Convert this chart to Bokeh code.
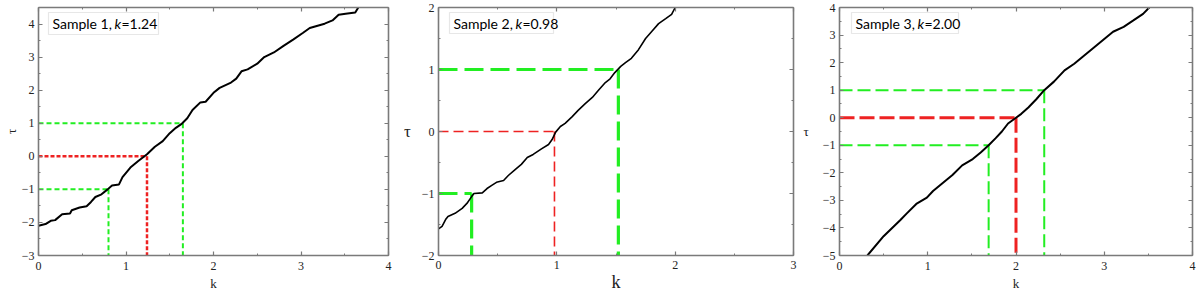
from bokeh.plotting import figure
from bokeh.layouts import row
from bokeh.models import (LinearAxis, SingleIntervalTicker, CustomJSTickFormatter,
                          Range1d, BoxAnnotation, Label)
from bokeh.embed import file_html
from bokeh.resources import INLINE

# ---------------- data ----------------
k1 = [0.0, 0.08, 0.14, 0.19, 0.27, 0.36, 0.38, 0.47, 0.55, 0.60, 0.65, 0.72, 0.79,
      0.84, 0.92, 0.96, 1.05, 1.14, 1.20, 1.24, 1.33, 1.42, 1.50, 1.57, 1.64, 1.70,
      1.76, 1.85, 1.91, 2.00, 2.07, 2.20, 2.26, 2.32, 2.39, 2.50, 2.58, 2.69, 2.80,
      2.91, 3.02, 3.10, 3.19, 3.27, 3.36, 3.43, 3.51, 3.62, 3.66]
tau1 = [-2.10, -2.05, -1.95, -1.93, -1.75, -1.73, -1.63, -1.55, -1.51, -1.38, -1.23,
        -1.15, -1.00, -0.88, -0.85, -0.63, -0.34, -0.14, -0.02, 0.06, 0.29, 0.46,
        0.70, 0.86, 0.99, 1.15, 1.40, 1.63, 1.65, 1.92, 2.07, 2.23, 2.35, 2.57, 2.63,
        2.80, 3.00, 3.14, 3.34, 3.53, 3.73, 3.88, 3.95, 4.01, 4.11, 4.28, 4.31, 4.35,
        4.52]

k2 = [0.0, 0.03, 0.06, 0.08, 0.14, 0.20, 0.24, 0.28, 0.30, 0.37, 0.41, 0.45, 0.49,
      0.55, 0.59, 0.65, 0.70, 0.75, 0.80, 0.87, 0.93, 0.96, 0.99, 1.03, 1.07, 1.13,
      1.18, 1.24, 1.30, 1.35, 1.41, 1.45, 1.49, 1.54, 1.58, 1.63, 1.69, 1.75, 1.80,
      1.86, 1.92, 1.97, 2.00]
tau2 = [-1.57, -1.53, -1.42, -1.37, -1.32, -1.24, -1.16, -1.05, -1.00, -0.99, -0.92,
        -0.87, -0.82, -0.79, -0.71, -0.61, -0.53, -0.42, -0.37, -0.28, -0.21, -0.13,
        -0.01, 0.08, 0.13, 0.24, 0.34, 0.45, 0.55, 0.66, 0.79, 0.85, 0.95, 1.05, 1.11,
        1.18, 1.32, 1.50, 1.61, 1.74, 1.82, 1.89, 2.00]

k3 = [0.316, 0.50, 0.69, 0.76, 0.87, 0.99, 1.06, 1.17, 1.28, 1.39, 1.51, 1.60, 1.69,
      1.77, 1.84, 1.91, 2.00, 2.06, 2.14, 2.23, 2.32, 2.43, 2.55, 2.66, 2.77, 2.88,
      2.99, 3.10, 3.22, 3.33, 3.44, 3.51]
tau3 = [-5.00, -4.30, -3.71, -3.48, -3.13, -2.90, -2.66, -2.37, -2.08, -1.73, -1.50,
        -1.26, -1.00, -0.74, -0.50, -0.21, 0.00, 0.14, 0.37, 0.67, 1.00, 1.31, 1.72,
        1.96, 2.25, 2.54, 2.83, 3.12, 3.30, 3.53, 3.77, 4.00]

cross_tau = [-1, 0, 1]
cross_k1 = [0.80, 1.24, 1.65]
cross_k2 = [0.28, 0.98, 1.52]
cross_k3 = [1.69, 2.00, 2.32]

sample_names = ["Sample 1, ", "Sample 2, ", "Sample 3, "]
k_texts = ["=1.24", "=0.98", "=2.00"]

GREEN = "#22ee22"
RED = "#ee2222"
AXC = "#7a7a7a"
SERIF = "Liberation Serif"

FRAME_H = 248
B_TOP = 7
B_BOT = 38


def style_axis(ax, labels=True, fsize="12px"):
    ax.ticker = SingleIntervalTicker(interval=1, num_minor_ticks=2)
    ax.axis_line_color = AXC
    ax.axis_line_width = 1.6
    ax.major_tick_line_color = AXC
    ax.minor_tick_line_color = AXC
    ax.major_tick_line_width = 1.2
    ax.minor_tick_line_width = 1.0
    ax.major_tick_in = 4
    ax.major_tick_out = 0
    ax.minor_tick_in = 2
    ax.minor_tick_out = 0
    if labels:
        ax.major_label_text_font = SERIF
        ax.major_label_text_font_size = fsize
        ax.major_label_text_color = "#222222"
        ax.major_label_standoff = 4
    else:
        ax.formatter = CustomJSTickFormatter(code="return ''")
        ax.major_label_text_font_size = "0px"
        ax.major_label_standoff = 0


def panel(kx, ty, ck, xr, yr, fw, bl, br, cfg):
    p = figure(frame_width=fw, frame_height=FRAME_H,
               x_range=Range1d(*xr), y_range=Range1d(*yr),
               output_backend="svg", toolbar_location=None,
               min_border_left=bl, min_border_right=br,
               min_border_top=B_TOP, min_border_bottom=B_BOT)
    p.xgrid.visible = False
    p.ygrid.visible = False
    p.outline_line_color = None
    p.background_fill_color = "white"
    p.border_fill_color = "white"

    style_axis(p.xaxis[0])
    style_axis(p.yaxis[0])
    p.xaxis[0].major_label_standoff = cfg["xt_stand"]
    p.xaxis[0].axis_label = "k"
    p.yaxis[0].axis_label = "τ"
    for ax, fs in ((p.xaxis[0], cfg["xl_fs"]), (p.yaxis[0], cfg["yl_fs"])):
        ax.axis_label_text_font = SERIF
        ax.axis_label_text_font_style = "normal"
        ax.axis_label_text_font_size = fs
        ax.axis_label_text_color = "#222222"
        ax.axis_label_standoff = 0
    p.xaxis[0].axis_label_standoff = cfg["xl_stand"]
    if cfg["yl_horiz"]:
        p.yaxis[0].axis_label_orientation = "horizontal"
        p.yaxis[0].axis_label_standoff = cfg.get("yl_stand", 4)

    top = LinearAxis()
    style_axis(top, labels=False)
    p.add_layout(top, "above")
    right = LinearAxis()
    style_axis(right, labels=False)
    p.add_layout(right, "right")

    x0 = xr[0]
    y0 = yr[0]
    colors = [GREEN, RED, GREEN]
    for i in range(3):
        c = colors[i]
        lw = cfg["g_w"] if c == GREEN else cfg["r_w"]
        dash = cfg["g_d"] if c == GREEN else cfg["r_d"]
        p.line([x0, ck[i]], [cross_tau[i], cross_tau[i]], line_color=c,
               line_width=lw, line_dash=dash)
        p.line([ck[i], ck[i]], [cross_tau[i], y0], line_color=c,
               line_width=lw, line_dash=dash)

    p.line(kx, ty, line_color="black", line_width=cfg["c_w"])

    # legend box (screen units, measured from the frame's bottom-left)
    fh = FRAME_H
    bx0, bw, btop, bh = cfg["box"]
    p.add_layout(BoxAnnotation(left=bx0, right=bx0 + bw, top=fh - btop, bottom=fh - btop - bh,
                               left_units="screen", right_units="screen",
                               top_units="screen", bottom_units="screen",
                               fill_color="white", fill_alpha=1.0,
                               line_color="#b0b0b0", line_width=1.2))
    ymid = fh - btop - bh / 2
    tx = bx0 + 4
    parts = [(cfg["name"], "normal", 0), ("k", "italic", cfg["w1"]),
             (cfg["ktext"], "normal", cfg["w1"] + cfg["w2"])]
    for txt, style, off in parts:
        p.add_layout(Label(x=tx + off, y=ymid, x_units="screen", y_units="screen",
                           text=txt, text_font="Lato", text_font_size="14px",
                           text_font_style=style, text_color="black",
                           text_baseline="middle", text_align="left"))
    return p


cfg1 = dict(xl_fs="13px", yl_fs="13px", yl_horiz=False, xt_stand=6, xl_stand=3,
            g_w=2, r_w=2.5, c_w=2,
            g_d="5 3", r_d="4 2", box=(10, 110, 5, 22),
            name=sample_names[0], ktext=k_texts[0], w1=62, w2=7)
cfg2 = dict(xl_fs="18px", yl_fs="17px", yl_horiz=True, yl_stand=8, xt_stand=5, xl_stand=0,
            g_w=3.2, r_w=1.6, c_w=1.6,
            g_d="19 7", r_d="10 5", box=(11, 104, 5, 21),
            name=sample_names[1], ktext=k_texts[1], w1=62, w2=7)
cfg3 = dict(xl_fs="13px", yl_fs="13px", yl_horiz=True, yl_stand=11, xt_stand=6, xl_stand=3,
            g_w=2, r_w=3, c_w=2,
            g_d="13 5", r_d="15 5", box=(12, 107, 5, 21),
            name=sample_names[2], ktext=k_texts[2], w1=62, w2=7)

p1 = panel(k1, tau1, cross_k1, (0, 4), (-3, 4.5), 350, 38, 12, cfg1)
p2 = panel(k2, tau2, cross_k2, (0, 3), (-2, 2), 355, 37, 6, cfg2)
p3 = panel(k3, tau3, cross_k3, (0, 4), (-5, 4), 353, 40, 5, cfg3)

layout = row(p1, p2, p3, spacing=0)
open("out.html", "w").write(file_html(layout, INLINE))
